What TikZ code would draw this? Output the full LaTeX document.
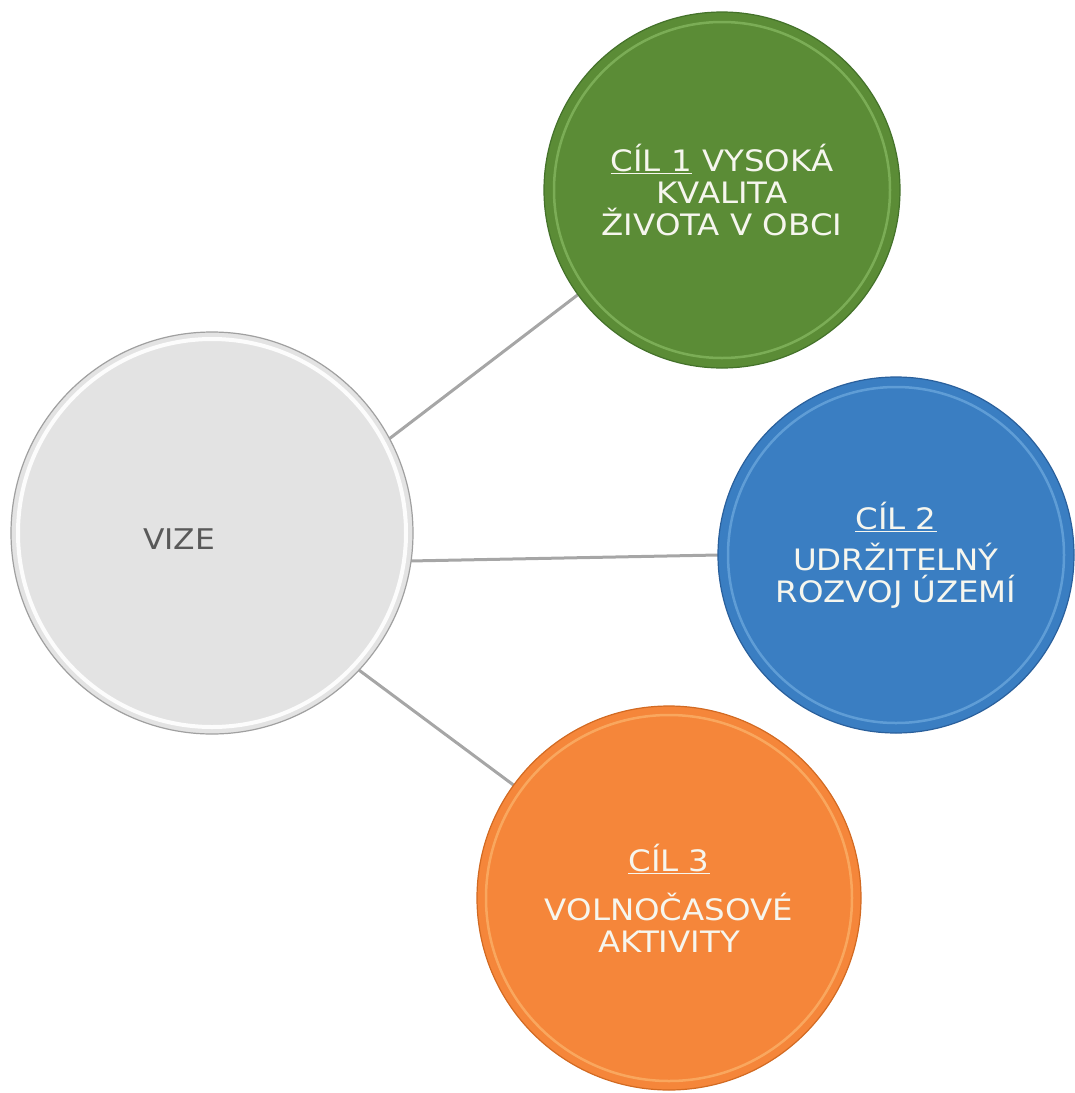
\documentclass[tikz,border=0pt]{standalone}
\usepackage{fontspec}
\setmainfont{DejaVu Sans}[FakeStretch=1.1]
\pgfdeclarelayer{bg}
\pgfsetlayers{bg,main}
\definecolor{gfill}{HTML}{5B8C36}
\definecolor{grim}{HTML}{44722A}
\definecolor{ghi}{HTML}{A4D67E}
\definecolor{bfill}{HTML}{3A7EC2}
\definecolor{brim}{HTML}{2A609C}
\definecolor{bhi}{HTML}{8DC4EF}
\definecolor{ofill}{HTML}{F5863A}
\definecolor{orim}{HTML}{D26A22}
\definecolor{ohi}{HTML}{FFD08C}
\definecolor{vfill}{HTML}{E3E3E3}
\definecolor{vrim}{HTML}{A0A0A0}
\definecolor{vhi}{HTML}{FFFFFF}
\definecolor{conn}{HTML}{A6A6A6}
\definecolor{ltext}{HTML}{F6F6EE}
\definecolor{vtext}{HTML}{595959}
\tikzset{
  disc/.style={circle, inner sep=0pt, outer sep=0pt, align=center,
    font=\fontsize{29.5}{32}\selectfont},
  connector/.style={draw=conn, line width=3pt},
  rimring/.style={line width=2.5pt, opacity=0.45},
}
\begin{document}
\begin{tikzpicture}[x=1pt,y=-1pt]
\useasboundingbox (0,0) rectangle (1075,1093);
% circles
\node[disc, minimum size=402pt, fill=vfill, draw=vrim, line width=1.2pt] (vize) at (212,533) {};
\draw[vhi, line width=4pt, opacity=0.9] (vize.center) circle[radius=194];
\node[font=\fontsize{28.5}{32}\selectfont, text=vtext] (vizetext) at (179,539) {VIZE};

\node[disc, minimum size=356pt, fill=gfill, draw=grim, line width=1.2pt, text=ltext] (c1) at (722,190)
  {\underline{CÍL 1} VYSOKÁ\\KVALITA\\ŽIVOTA V OBCI};
\draw[ghi, rimring] (c1.center) circle[radius=168];

\node[disc, minimum size=356pt, fill=bfill, draw=brim, line width=1.2pt, text=ltext] (c2) at (896,555)
  {\underline{CÍL 2}\\[9pt]UDRŽITELNÝ\\ROZVOJ ÚZEMÍ};
\draw[bhi, rimring] (c2.center) circle[radius=168];

\node[disc, minimum size=384pt, fill=ofill, draw=orim, line width=1.2pt, text=ltext] (c3) at (669,898)
  {\underline{CÍL 3}\\[17pt]VOLNOČASOVÉ\\AKTIVITY};
\draw[ohi, rimring] (c3.center) circle[radius=183];

% connectors behind
\begin{pgfonlayer}{bg}
\draw[connector] (vize.28.8) -- (c1.216.4);
\draw[connector] (vize.-8.1) -- (c2.180.6);
\draw[connector] (vize.-43.8) -- (c3.144.3);
\end{pgfonlayer}
\end{tikzpicture}
\end{document}
